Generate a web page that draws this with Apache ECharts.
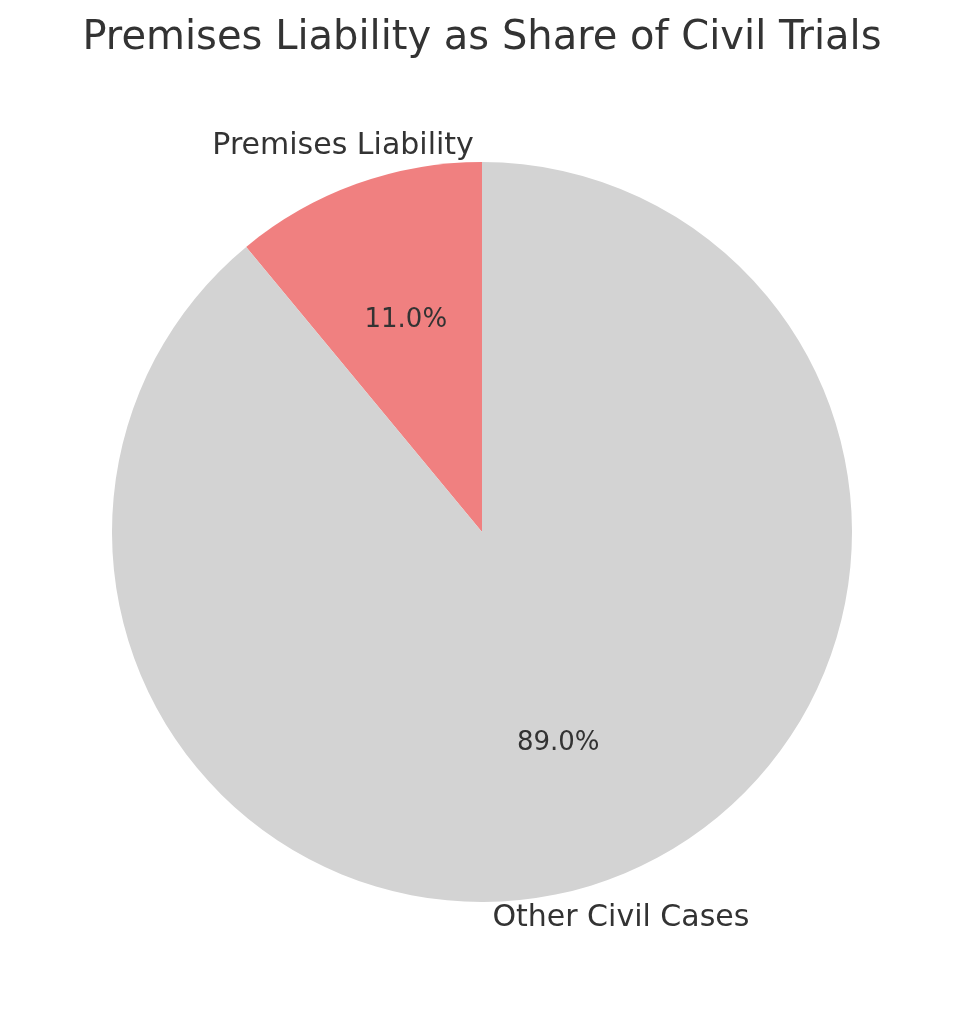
<!DOCTYPE html>
<html><head><meta charset="utf-8">
<script src="https://cdn.jsdelivr.net/npm/echarts@6/dist/echarts.min.js"></script>
<style>html,body{margin:0;padding:0;background:#fff}#c{width:964px;height:1014px}</style>
</head><body><div id="c"></div>
<script>
const categories = ['Premises Liability', 'Other Civil Cases'];
const values = [11, 89];
const colors = ['#f08080', '#d3d3d3'];
const titleText = 'Premises Liability as Share of Civil Trials';

const chart = echarts.init(document.getElementById('c'));
const base = {type: 'pie', center: [482, 532], clockwise: false, startAngle: 90, silent: true, animation: false, labelLine: {show: false}};
const font = 'DejaVu Sans';
chart.setOption({
  backgroundColor: '#fff',
  title: {text: titleText, left: 'center', top: 14, textStyle: {fontFamily: font, fontSize: 40, fontWeight: 'normal', color: '#333'}},
  series: [
    Object.assign({}, base, {
      radius: [0, 370],
      data: categories.map((c, i) => ({name: c, value: values[i], itemStyle: {color: colors[i]}})),
      label: {show: false}
    }),
    Object.assign({}, base, {
      radius: [74, 370], z: 5,
      itemStyle: {color: 'transparent'},
      data: categories.map((c, i) => ({name: c, value: values[i]})),
      label: {show: true, position: 'inside', formatter: p => p.value.toFixed(1) + '%', fontFamily: font, fontSize: 26, color: '#333'}
    }),
    Object.assign({}, base, {
      radius: [370, 444], z: 5,
      itemStyle: {color: 'transparent'},
      data: categories.map((c, i) => ({name: c, value: values[i], label: {align: i === 0 ? 'right' : 'left'}})),
      label: {show: true, position: 'inside', formatter: '{b}', fontFamily: font, fontSize: 30, color: '#333', verticalAlign: 'middle'}
    })
  ]
});
</script></body></html>
